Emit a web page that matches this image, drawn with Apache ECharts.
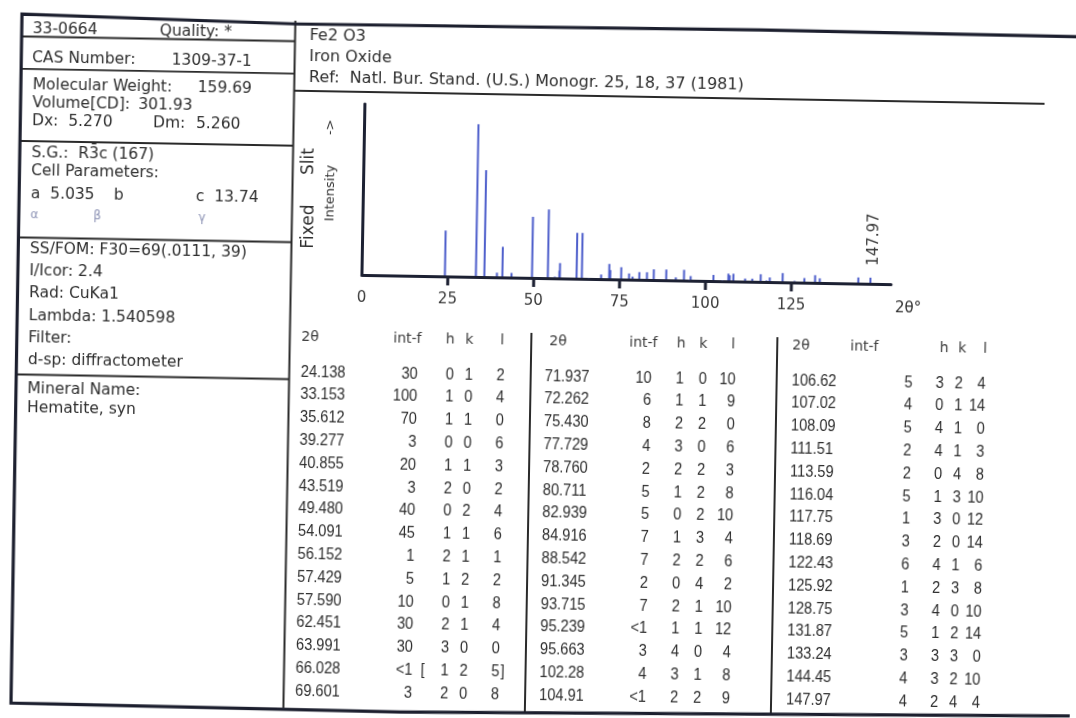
<!DOCTYPE html>
<html><head><meta charset="utf-8">
<script src="https://cdn.jsdelivr.net/npm/echarts@6/dist/echarts.min.js"></script>
<style>
html,body{margin:0;padding:0;width:1076px;height:718px;overflow:hidden;background:#fff;}
#chart{width:1076px;height:718px;transform:rotate(1deg);transform-origin:538px 359px;background:#fff;}
</style></head><body><div id="chart"></div>
<script>
// ---------------- data ----------------
const twoThetaLabels = [
  '24.138','33.153','35.612','39.277','40.855','43.519','49.480','54.091','56.152','57.429','57.590','62.451','63.991','66.028','69.601',
  '71.937','72.262','75.430','77.729','78.760','80.711','82.939','84.916','88.542','91.345','93.715','95.239','95.663','102.28','104.91',
  '106.62','107.02','108.09','111.51','113.59','116.04','117.75','118.69','122.43','125.92','128.75','131.87','133.24','144.45','147.97'];
const intensityLabels = [
  '30','100','70','3','20','3','40','45','1','5','10','30','30','<1','3',
  '10','6','8','4','2','5','5','7','7','2','7','<1','3','4','<1',
  '5','4','5','2','2','5','1','3','6','1','3','5','3','4','4'];
const hValues = [0,1,1,0,1,2,0,1,2,1,0,2,3,1,2, 1,1,2,3,2,1,0,1,2,0,2,1,4,3,2, 3,0,4,4,0,1,3,2,4,2,4,1,3,3,2];
const kValues = [1,0,1,0,1,0,2,1,1,2,1,1,0,2,0, 0,1,2,0,2,2,2,3,2,4,1,1,0,1,2, 2,1,1,1,4,3,0,0,1,3,0,2,3,2,4];
const lValues = [2,4,0,6,3,2,4,6,1,2,8,4,0,5,8, 10,9,0,6,3,8,10,4,6,2,10,12,4,8,9, 4,14,0,3,8,10,12,14,6,8,10,14,0,10,4];
const bracketedRows = [13];
const LESS_THAN_ONE = 0.5;          // drawn height for "<1" lines
const xTickLabels = [0, 25, 50, 75, 100, 125];
const xTickMarks = [25, 50, 75, 100, 125];
const tableHeaders = ['2θ', 'int-f', 'h', 'k', 'l'];

const leftPanelText = ['33-0664','Quality: *','CAS Number:','1309-37-1','Molecular Weight:','159.69','Volume[CD]:','301.93',
  'Dx:  5.270','Dm:','5.260','S.G.:  R3\u0304c (167)','Cell Parameters:','a  5.035','b','c  13.74',
  'SS/FOM: F30=69(.0111, 39)','I/Icor: 2.4','Rad: CuKa1','Lambda: 1.540598','Filter:','d-sp: diffractometer',
  'Mineral Name:','Hematite, syn'];
const greekText = ['α','β','γ'];
const titleText = ['Fe2 O3','Iron Oxide','Ref:  Natl. Bur. Stand. (U.S.) Monogr. 25, 18, 37 (1981)'];
const axisTitleText = ['Fixed','Slit','Intensity','->'];
const xAxisName = '2θ°';

// ---------------- layout ----------------
const ROT = 1 * Math.PI / 180;
function U(xr, yr) { // reference (tilted scan) coords -> unrotated page coords
  const dx = xr - 538, dy = yr - 359;
  return [538 + dx * Math.cos(ROT) + dy * Math.sin(ROT), 359 - dx * Math.sin(ROT) + dy * Math.cos(ROT)];
}
const TEXT = '#2e2e2e', LINE = '#2a2a2a', BORDER = '#1c1f2e', AXIS = '#1d2133', PEAK = '#4d5ecb';
const F_MAIN = '15.5px "DejaVu Sans"';
const F_TAB = '17px "Liberation Sans"';
const TAB_SX = 0.86;
const F_HDR = '14px "DejaVu Sans"';

const leftPanelPos = [[27,37.5],[154,37.5],[27,66.8],[166.5,66.8],[28,94],[193,94],[28,111.5],[134,111.5],
  [28,130],[149,130],[192,130],[28,162],[28,180],[28,203],[111,203],[193,203],
  [28,257.5],[28,280],[28,302],[28,325],[28,347],[28,369],[28,398],[28,417]];
const greekPos = [[28,224],[91,224],[196,224]];
const titlePos = [[304,40],[304,61],[304,82]];

const G = [];
function txt(x, y, s, font, opt) {
  opt = opt || {};
  const al = opt.align || 'left';
  G.push({type:'text', x:x, y:y, rotation: opt.rot || 0, scaleX: opt.sx || 1, silent:true, z:10,
    style:{text:s, font:font, fill:opt.fill || TEXT, align:al, textAlign:al, verticalAlign:'middle', textVerticalAlign:'middle'}});
}
function ln(p1, p2, w, c) {
  G.push({type:'line', silent:true, z:5, shape:{x1:p1[0], y1:p1[1], x2:p2[0], y2:p2[1]}, style:{stroke:c || LINE, lineWidth:w || 1.6}});
}
function pl(pts, w, c) {
  G.push({type:'polyline', silent:true, z:6, shape:{points:pts}, style:{stroke:c || BORDER, lineWidth:w || 3, fill:null}});
}

// outer frame
pl([U(1086,37), U(760,30), U(297,24), U(22,14), U(11,703), U(400,712), U(1074,716), U(1086,37)], 3.2, BORDER);
// left / right divider
ln([289.5, 25], [289.5, 712], 2, LINE);
// left panel separators
[45.5, 77.8, 150, 246.5, 383.5].forEach(y => ln([17, y], [289.5, y], 1.8, LINE));
// line under reference
ln([289.5, 95], [1040, 95], 1.8, LINE);
// table separators
ln([531, 333], [531, 713], 2, LINE);
ln([777, 333], [777, 711], 2, LINE);

leftPanelText.forEach((s, i) => txt(leftPanelPos[i][0], leftPanelPos[i][1], s, F_MAIN));
greekText.forEach((s, i) => txt(greekPos[i][0], greekPos[i][1], s, '12px "DejaVu Sans"', {fill:'#8d93b5'}));
titleText.forEach((s, i) => txt(titlePos[i][0], titlePos[i][1], s, '16px "DejaVu Sans"'));

// y-axis title (vertical)
txt(307, 230.6, axisTitleText[0], '17px "DejaVu Sans"', {rot:Math.PI/2, align:'center'});
txt(306, 165.6, axisTitleText[1], '17px "DejaVu Sans"', {rot:Math.PI/2, align:'center'});
txt(328, 196.8, axisTitleText[2], '13px "DejaVu Sans"', {rot:Math.PI/2, align:'center'});
txt(327, 131, axisTitleText[3], '13px "DejaVu Sans"', {rot:Math.PI/2, align:'center'});
txt(894, 302, xAxisName, '15px "DejaVu Sans"');

// tables
const colLayout = [
  {tt:301, intR:418, h:450, k:469, lR:505, H:[301,393,450,469,502]},
  {tt:545, intR:652, h:680, k:703, lR:736, H:[549,629,681,703,733]},
  {tt:792, intR:913, h:940, k:959, lR:986, H:[792,850,944,962,985]}
];
const ROWS = 15, ROW0 = 376, ROWSTEP = 22.8, HDR_Y = 341;
colLayout.forEach((c, ci) => {
  tableHeaders.forEach((s, j) => txt(c.H[j], HDR_Y, s, F_HDR, {align: j >= 2 ? 'center' : 'left', fill:'#3a3a3a'}));
  for (let r = 0; r < ROWS; r++) {
    const i = ci * ROWS + r, y = ROW0 + r * ROWSTEP;
    txt(c.tt, y, twoThetaLabels[i], F_TAB, {sx:TAB_SX});
    txt(c.intR, y, intensityLabels[i], F_TAB, {align:'right', sx:TAB_SX});
    txt(c.h, y, String(hValues[i]), F_TAB, {align:'center', sx:TAB_SX});
    txt(c.k, y, String(kValues[i]), F_TAB, {align:'center', sx:TAB_SX});
    txt(c.lR, y, String(lValues[i]), F_TAB, {align:'right', sx:TAB_SX});
    if (bracketedRows.includes(i)) {
      txt(c.intR + 10, y, '[', F_TAB, {align:'center', sx:TAB_SX});
      txt(c.lR + 1, y, ']', F_TAB, {sx:TAB_SX});
    }
  }
});

// ---------------- chart ----------------
const peaks = twoThetaLabels.map((t, i) => [parseFloat(t), intensityLabels[i] === '<1' ? LESS_THAN_ONE : parseFloat(intensityLabels[i])]);
let labeledIndex = 0;
peaks.forEach((p, i) => { if (p[0] > peaks[labeledIndex][0]) labeledIndex = i; });

const chart = echarts.init(document.getElementById('chart'), null, {renderer:'canvas'});
chart.setOption({
  animation:false,
  backgroundColor:'#ffffff',
  grid:{left:360.5, top:107, right:186.3, bottom:440, containLabel:false},
  xAxis:{type:'value', min:0, max:154, interval:25,
    axisLine:{show:true, onZero:false, lineStyle:{color:AXIS, width:3}},
    axisTick:{show:false},
    axisLabel:{show:true, customValues:xTickLabels, margin:16, color:'#3a3a3a', fontSize:15, fontFamily:'DejaVu Sans',
      formatter: v => (xTickLabels.indexOf(v) >= 0 ? String(v) : '')},
    splitLine:{show:false}},
  yAxis:{type:'value', min:0, max:112,
    axisLine:{show:true, onZero:false, lineStyle:{color:AXIS, width:3}},
    axisTick:{show:false}, axisLabel:{show:false}, splitLine:{show:false}},
  series:[{
    type:'custom', name:'lines', coordinateSystem:'cartesian2d', data:peaks, encode:{x:0, y:1}, z:3,
    renderItem:function(params, api) {
      const x = api.value(0), y = api.value(1);
      const b = api.coord([x, 0]), t = api.coord([x, y]);
      const ch = [{type:'line', shape:{x1:b[0], y1:b[1] - 1, x2:t[0], y2:t[1]}, style:{stroke:PEAK, lineWidth:2}}];
      if (params.dataIndex === labeledIndex) {
        ch.push({type:'text', x:t[0] + 3.5, y:t[1] - 12, rotation:Math.PI / 2,
          style:{text:twoThetaLabels[params.dataIndex], font:'15px "DejaVu Sans"', fill:'#3a3a3a', align:'left', verticalAlign:'middle'}});
      }
      return {type:'group', children:ch};
    }
  }, {
    type:'custom', name:'ticks', coordinateSystem:'cartesian2d', data:xTickMarks.map(v => [v, 0]), encode:{x:0, y:1}, z:4,
    renderItem:function(params, api) {
      const p = api.coord([api.value(0), 0]);
      return {type:'line', shape:{x1:p[0], y1:p[1] + 1, x2:p[0], y2:p[1] + 9}, style:{stroke:AXIS, lineWidth:3}};
    }
  }],
  graphic:{elements:G}
});
</script></body></html>
